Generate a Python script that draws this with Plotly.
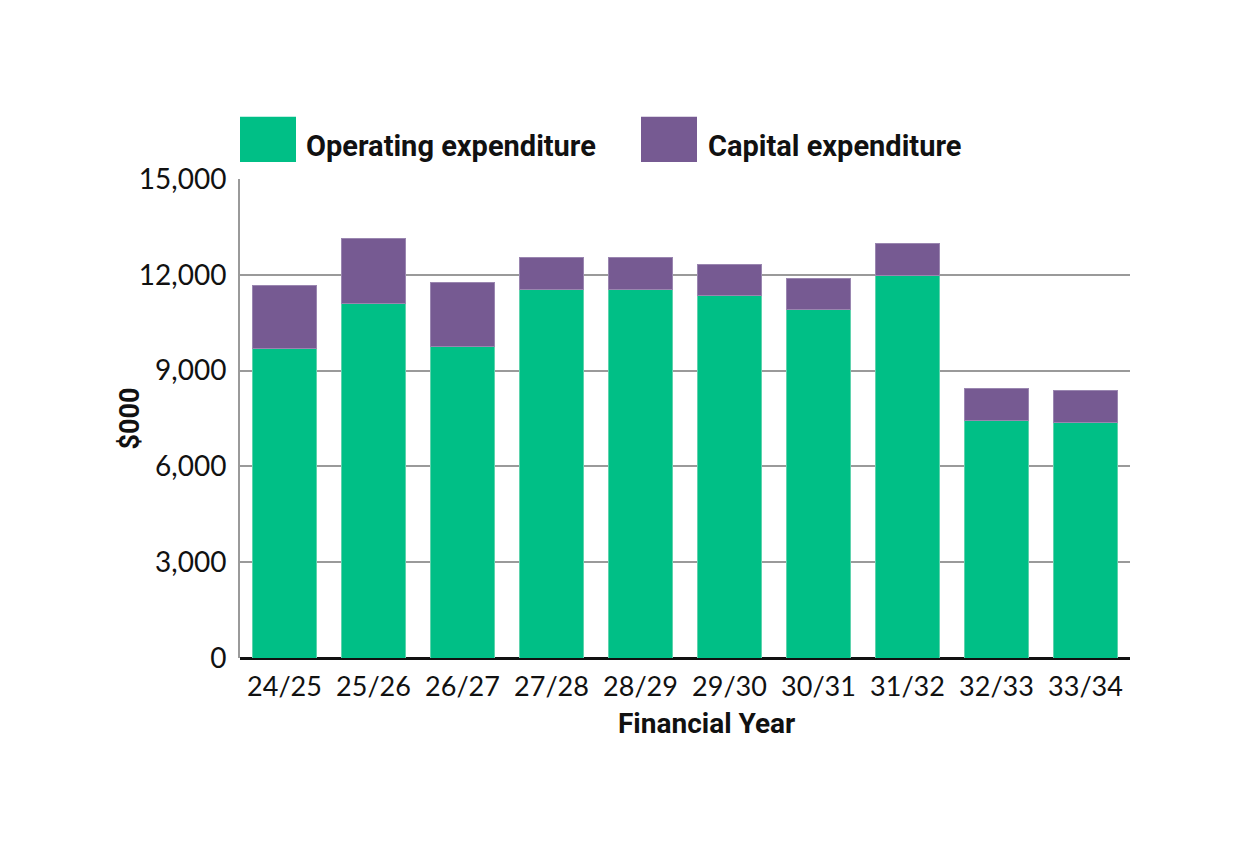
import plotly.graph_objects as go

years = ['24/25', '25/26', '26/27', '27/28', '28/29', '29/30', '30/31', '31/32', '32/33', '33/34']
operating = [9690, 11100, 9750, 11550, 11550, 11350, 10900, 11980, 7450, 7390]
capital = [1980, 2050, 2010, 1000, 1000, 980, 990, 1000, 1000, 980]

green = '#00BF86'
purple = '#765A92'

fig = go.Figure()
fig.add_trace(go.Bar(x=years, y=operating, name='Operating expenditure',
                     marker=dict(color=green, line=dict(color='#5fd3ad', width=1))))
fig.add_trace(go.Bar(x=years, y=capital, name='Capital expenditure',
                     marker=dict(color=purple, line=dict(color='#9a86b0', width=1))))

fig.update_layout(
    barmode='stack',
    bargap=0.28,
    width=1250,
    height=853,
    margin=dict(l=232, r=128, t=171, b=203),
    plot_bgcolor='#ffffff',
    paper_bgcolor='#ffffff',
    font=dict(family='Lato', color='#111111', size=26),
    showlegend=False,
    xaxis=dict(
        tickfont=dict(size=27),
        showgrid=False,
        ticks='outside',
        ticklen=5,
        tickcolor='rgba(0,0,0,0)',
        showline=False,
    ),
    yaxis=dict(
        range=[0, 15000],
        tickvals=[0, 3000, 6000, 9000, 12000, 15000],
        tickformat=',',
        tickfont=dict(size=28),
        ticklabelstandoff=6,
        showgrid=True,
        gridcolor='#9a9a9a',
        gridwidth=1.5,
        showline=True,
        linecolor='#9a9a9a',
        linewidth=2,
        zeroline=True,
        zerolinecolor='#111111',
        zerolinewidth=3,
        ticks='',
    ),
)

# axis titles
fig.add_annotation(xref='paper', yref='paper', x=0.5236, y=-0.136, xanchor='center', yanchor='middle',
                   text='<b>Financial Year</b>', showarrow=False, font=dict(family='Roboto', size=28))
fig.add_annotation(xref='paper', yref='paper', x=-0.1247, y=0.5, xanchor='center', yanchor='middle',
                   text='<b>$000</b>', textangle=-90, showarrow=False, font=dict(family='Roboto', size=27))

# custom legend with large swatches
fig.add_shape(type='rect', xref='paper', yref='paper', x0=0, x1=56 / 890, y0=1 + 17 / 478, y1=1 + 62 / 478,
              fillcolor=green, line=dict(width=0))
fig.add_shape(type='rect', xref='paper', yref='paper', x0=401 / 890, x1=457 / 890, y0=1 + 17 / 478, y1=1 + 62 / 478,
              fillcolor=purple, line=dict(width=0))
fig.add_annotation(xref='paper', yref='paper', x=64 / 890, y=1 + 33 / 478, xanchor='left', yanchor='middle',
                   text='<b>Operating expenditure</b>', showarrow=False, font=dict(family='Roboto', size=29))
fig.add_annotation(xref='paper', yref='paper', x=466 / 890, y=1 + 33 / 478, xanchor='left', yanchor='middle',
                   text='<b>Capital expenditure</b>', showarrow=False, font=dict(family='Roboto', size=29))

fig.write_html('out.html')
